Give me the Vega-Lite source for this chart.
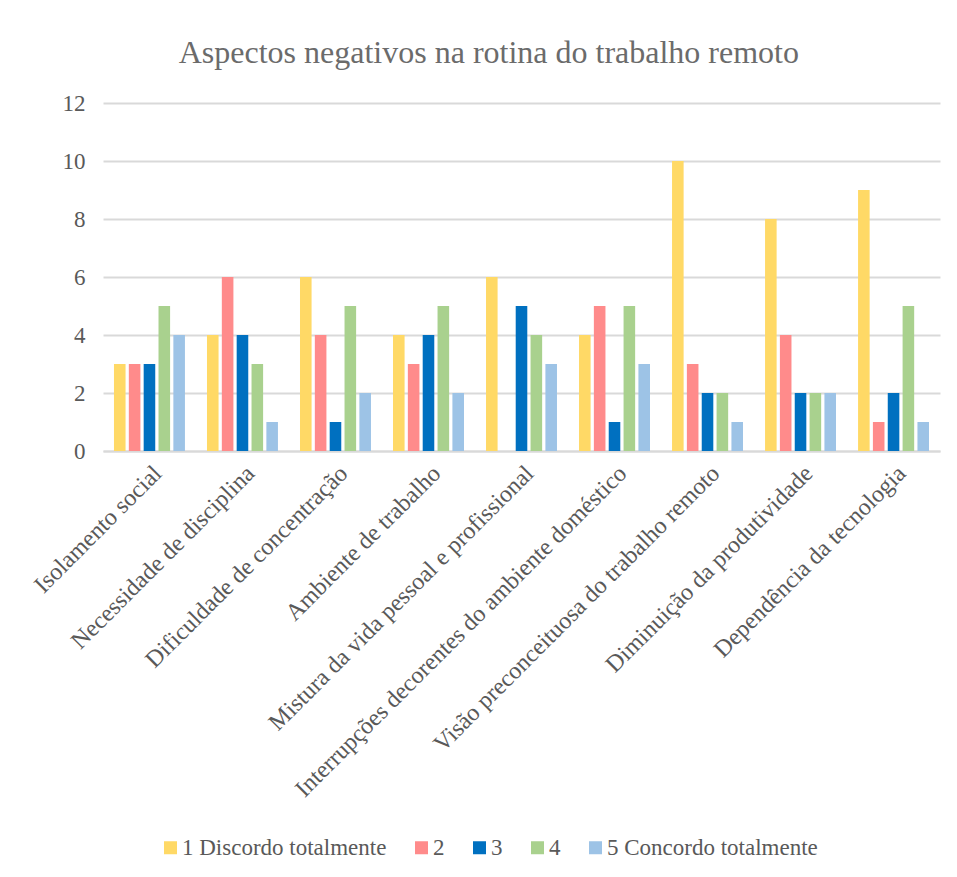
{
  "$schema": "https://vega.github.io/schema/vega-lite/v6.json",
  "width": 837,
  "height": 348,
  "autosize": {"type": "none"},
  "padding": {"left": 103, "top": 103, "right": 17, "bottom": 426},
  "background": "white",
  "title": {
    "text": "Aspectos negativos na rotina do trabalho remoto",
    "font": "Liberation Serif",
    "fontSize": 32,
    "fontWeight": "normal",
    "color": "#6b6b6b",
    "anchor": "middle",
    "frame": "bounds",
    "offset": 22,
    "dx": 4
  },
  "data": {
    "values": [
      {"aspecto": "Isolamento social", "nivel": "1 Discordo totalmente", "valor": 3},
      {"aspecto": "Isolamento social", "nivel": "2", "valor": 3},
      {"aspecto": "Isolamento social", "nivel": "3", "valor": 3},
      {"aspecto": "Isolamento social", "nivel": "4", "valor": 5},
      {"aspecto": "Isolamento social", "nivel": "5 Concordo totalmente", "valor": 4},
      {"aspecto": "Necessidade de disciplina", "nivel": "1 Discordo totalmente", "valor": 4},
      {"aspecto": "Necessidade de disciplina", "nivel": "2", "valor": 6},
      {"aspecto": "Necessidade de disciplina", "nivel": "3", "valor": 4},
      {"aspecto": "Necessidade de disciplina", "nivel": "4", "valor": 3},
      {"aspecto": "Necessidade de disciplina", "nivel": "5 Concordo totalmente", "valor": 1},
      {"aspecto": "Dificuldade de concentração", "nivel": "1 Discordo totalmente", "valor": 6},
      {"aspecto": "Dificuldade de concentração", "nivel": "2", "valor": 4},
      {"aspecto": "Dificuldade de concentração", "nivel": "3", "valor": 1},
      {"aspecto": "Dificuldade de concentração", "nivel": "4", "valor": 5},
      {"aspecto": "Dificuldade de concentração", "nivel": "5 Concordo totalmente", "valor": 2},
      {"aspecto": "Ambiente de trabalho", "nivel": "1 Discordo totalmente", "valor": 4},
      {"aspecto": "Ambiente de trabalho", "nivel": "2", "valor": 3},
      {"aspecto": "Ambiente de trabalho", "nivel": "3", "valor": 4},
      {"aspecto": "Ambiente de trabalho", "nivel": "4", "valor": 5},
      {"aspecto": "Ambiente de trabalho", "nivel": "5 Concordo totalmente", "valor": 2},
      {"aspecto": "Mistura da vida pessoal e profissional", "nivel": "1 Discordo totalmente", "valor": 6},
      {"aspecto": "Mistura da vida pessoal e profissional", "nivel": "2", "valor": 0},
      {"aspecto": "Mistura da vida pessoal e profissional", "nivel": "3", "valor": 5},
      {"aspecto": "Mistura da vida pessoal e profissional", "nivel": "4", "valor": 4},
      {"aspecto": "Mistura da vida pessoal e profissional", "nivel": "5 Concordo totalmente", "valor": 3},
      {"aspecto": "Interrupções decorentes do ambiente doméstico", "nivel": "1 Discordo totalmente", "valor": 4},
      {"aspecto": "Interrupções decorentes do ambiente doméstico", "nivel": "2", "valor": 5},
      {"aspecto": "Interrupções decorentes do ambiente doméstico", "nivel": "3", "valor": 1},
      {"aspecto": "Interrupções decorentes do ambiente doméstico", "nivel": "4", "valor": 5},
      {"aspecto": "Interrupções decorentes do ambiente doméstico", "nivel": "5 Concordo totalmente", "valor": 3},
      {"aspecto": "Visão preconceituosa do trabalho remoto", "nivel": "1 Discordo totalmente", "valor": 10},
      {"aspecto": "Visão preconceituosa do trabalho remoto", "nivel": "2", "valor": 3},
      {"aspecto": "Visão preconceituosa do trabalho remoto", "nivel": "3", "valor": 2},
      {"aspecto": "Visão preconceituosa do trabalho remoto", "nivel": "4", "valor": 2},
      {"aspecto": "Visão preconceituosa do trabalho remoto", "nivel": "5 Concordo totalmente", "valor": 1},
      {"aspecto": "Diminuição da produtividade", "nivel": "1 Discordo totalmente", "valor": 8},
      {"aspecto": "Diminuição da produtividade", "nivel": "2", "valor": 4},
      {"aspecto": "Diminuição da produtividade", "nivel": "3", "valor": 2},
      {"aspecto": "Diminuição da produtividade", "nivel": "4", "valor": 2},
      {"aspecto": "Diminuição da produtividade", "nivel": "5 Concordo totalmente", "valor": 2},
      {"aspecto": "Dependência da tecnologia", "nivel": "1 Discordo totalmente", "valor": 9},
      {"aspecto": "Dependência da tecnologia", "nivel": "2", "valor": 1},
      {"aspecto": "Dependência da tecnologia", "nivel": "3", "valor": 2},
      {"aspecto": "Dependência da tecnologia", "nivel": "4", "valor": 5},
      {"aspecto": "Dependência da tecnologia", "nivel": "5 Concordo totalmente", "valor": 1}
    ]
  },
  "mark": {"type": "bar"},
  "encoding": {
    "x": {
      "field": "aspecto",
      "type": "nominal",
      "sort": null,
      "title": null,
      "scale": {"paddingInner": 0.237, "paddingOuter": 0.118},
      "axis": {
        "labelAngle": -45,
        "labelAlign": "right",
        "labelBaseline": "top",
        "labelFont": "Liberation Serif",
        "labelFontSize": 24,
        "labelColor": "#595959",
        "labelPadding": 10,
        "labelLimit": 0,
        "ticks": false,
        "domainColor": "#D9D9D9",
        "domainWidth": 2,
        "grid": false
      }
    },
    "xOffset": {
      "field": "nivel",
      "type": "nominal",
      "sort": ["1 Discordo totalmente", "2", "3", "4", "5 Concordo totalmente"],
      "scale": {"paddingInner": 0.22, "paddingOuter": 0}
    },
    "y": {
      "field": "valor",
      "type": "quantitative",
      "title": null,
      "scale": {"domain": [0, 12]},
      "axis": {
        "values": [0, 2, 4, 6, 8, 10, 12],
        "labelFont": "Liberation Serif",
        "labelFontSize": 23,
        "labelColor": "#595959",
        "labelPadding": 18,
        "ticks": false,
        "domain": false,
        "grid": true,
        "gridColor": "#D9D9D9",
        "gridWidth": 2
      }
    },
    "color": {
      "field": "nivel",
      "type": "nominal",
      "title": null,
      "scale": {
        "domain": ["1 Discordo totalmente", "2", "3", "4", "5 Concordo totalmente"],
        "range": ["#FFD966", "#FF8B8B", "#0070C0", "#A9D18E", "#9DC3E6"]
      },
      "legend": {
        "orient": "none",
        "legendX": 56,
        "legendY": 733,
        "direction": "horizontal",
        "symbolType": "square",
        "symbolSize": 169,
        "symbolStrokeWidth": 0,
        "labelFont": "Liberation Serif",
        "labelFontSize": 23,
        "labelColor": "#595959",
        "labelOffset": 0,
        "labelLimit": 0,
        "columnPadding": 23
      }
    }
  },
  "config": {
    "view": {"stroke": null}
  }
}
